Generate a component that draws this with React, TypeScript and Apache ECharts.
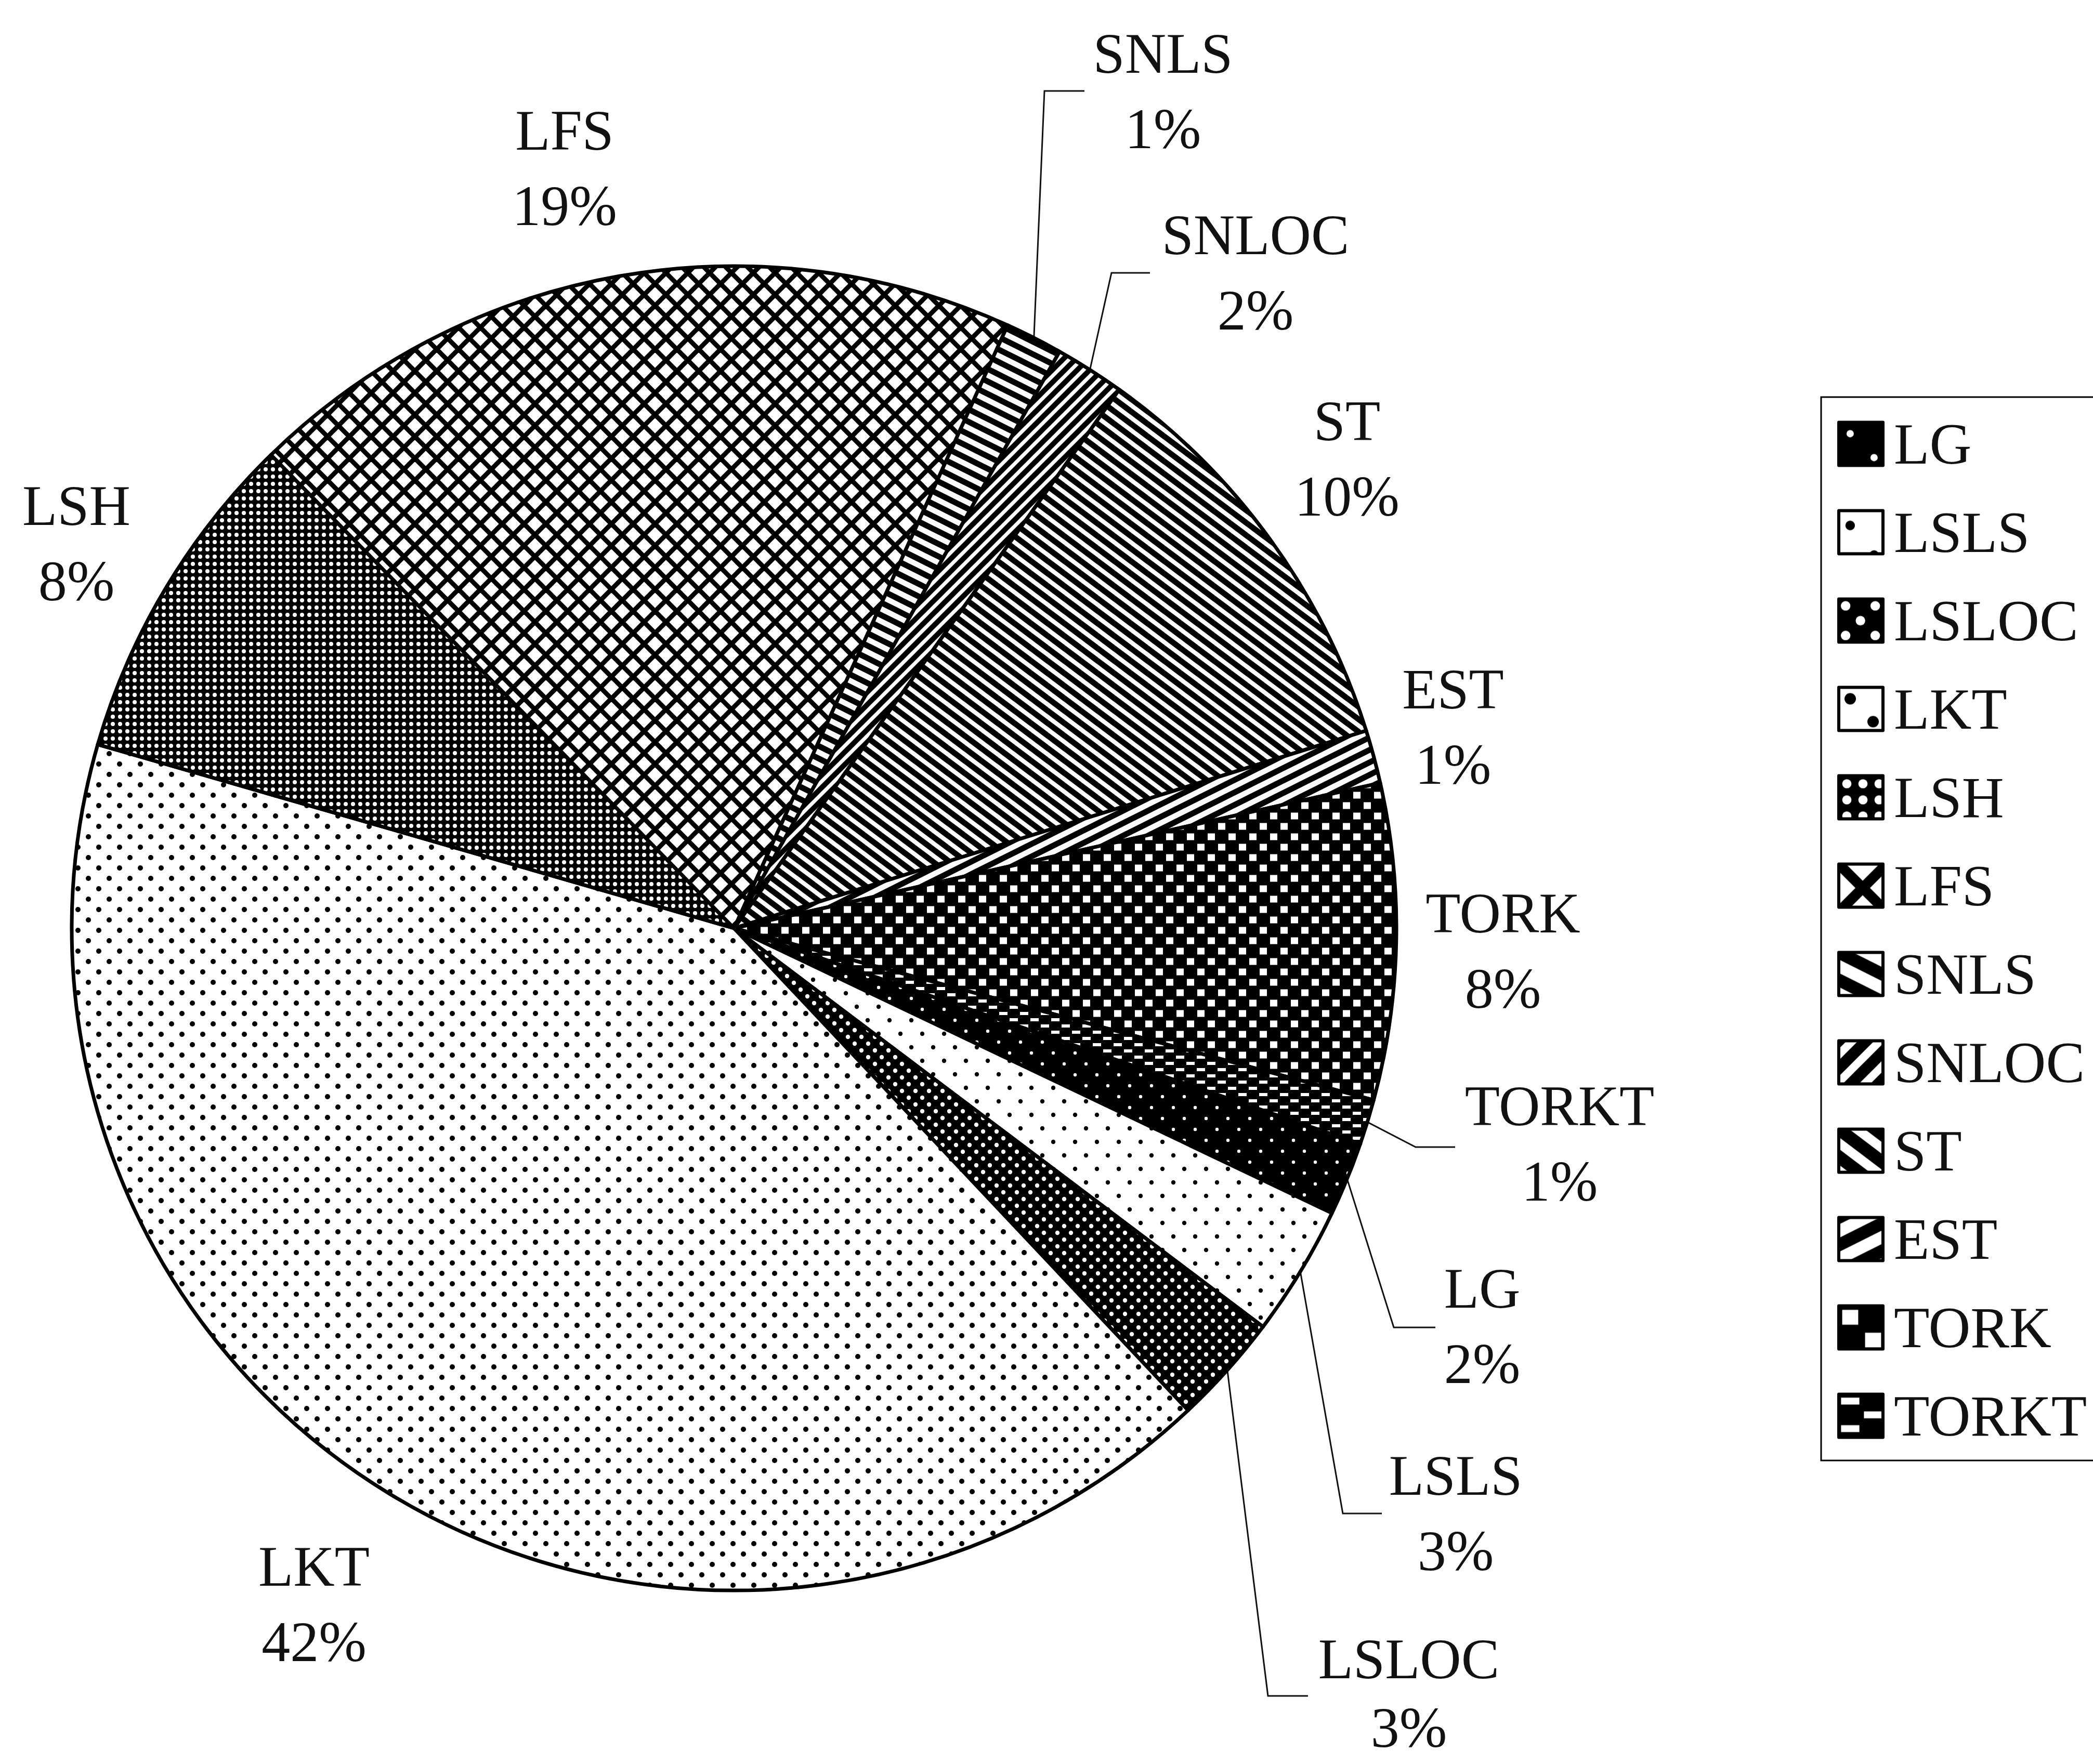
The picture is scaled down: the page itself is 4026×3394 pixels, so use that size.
import React, { useEffect, useRef } from 'react';
import * as echarts from 'echarts';

// ---- data ----
const NAMES = ['LG', 'LSLS', 'LSLOC', 'LKT', 'LSH', 'LFS', 'SNLS', 'SNLOC', 'ST', 'EST', 'TORK', 'TORKT'];
const VALUES = [1.8, 3.2, 2.7, 41.5, 8.2, 19.1, 1.4, 1.7, 10.3, 1.3, 7.7, 1.1];

// ---- layout / style config ----
const W = 4026;
const H = 3394;
const CX = 1412;
const CY = 1786;
const R = 1274;
const START_ANGLE = -19.0;
const FONT = '"Liberation Serif", "Times New Roman", serif';

// label block centres, px offsets from the pie centre
const LABEL_OFFSETS: [number, number][] = [
  [1439, 765], // LG
  [1388, 1125], // LSLS
  [1298, 1472], // LSLOC
  [-808, 1300], // LKT
  [-1265, -741], // LSH
  [-326, -1463], // LFS
  [825, -1611], // SNLS
  [1003, -1262], // SNLOC
  [1179, -904], // ST
  [1383, -388], // EST
  [1479, 43], // TORK
  [1588, 414], // TORKT
];
// per-label line height (the bottom label is a little tighter so it stays on the page)
const LABEL_LINE_HEIGHTS = [145, 145, 132, 145, 145, 145, 145, 145, 145, 145, 145, 145];
// leader lines: elbow and end, px offsets from the pie centre (null = no line)
const LEADERS: ([number, number][] | null)[] = [
  [[1269, 768], [1349, 768]],
  [[1171, 1126], [1246, 1126]],
  [[1027, 1477], [1104, 1477]],
  null,
  null,
  null,
  [[597, -1611], [674, -1611]],
  [[726, -1261], [800, -1261]],
  null,
  null,
  null,
  [[1311, 421], [1387, 421]],
];

type Ctx = CanvasRenderingContext2D;

function makePattern(w: number, h: number, s: number, bg: string, draw: (ctx: Ctx, w: number, h: number) => void) {
  const c = document.createElement('canvas');
  c.width = Math.round(w * s);
  c.height = Math.round(h * s);
  const ctx = c.getContext('2d') as Ctx;
  ctx.scale(c.width / w, c.height / h);
  ctx.fillStyle = bg;
  ctx.fillRect(0, 0, w, h);
  draw(ctx, w, h);
  return { image: c, repeat: 'repeat', imageWidth: c.width, imageHeight: c.height } as any;
}

function dots(pts: [number, number][], r: number, color: string) {
  return (ctx: Ctx, w: number, h: number) => {
    ctx.fillStyle = color;
    for (const [x, y] of pts) {
      for (const dx of [-w, 0, w]) {
        for (const dy of [-h, 0, h]) {
          ctx.beginPath();
          ctx.arc(x + dx, y + dy, r, 0, Math.PI * 2);
          ctx.fill();
        }
      }
    }
  };
}

function rects(pts: [number, number][], rw: number, rh: number, color: string) {
  return (ctx: Ctx, w: number, h: number) => {
    ctx.fillStyle = color;
    for (const [x, y] of pts) {
      for (const dx of [-w, 0, w]) {
        for (const dy of [-h, 0, h]) {
          ctx.fillRect(x + dx - rw / 2, y + dy - rh / 2, rw, rh);
        }
      }
    }
  };
}

// dir > 0 : "\" stripes, dir < 0 : "/" stripes
function stripes(dir: number, lw: number, color: string) {
  return (ctx: Ctx, w: number, h: number) => {
    ctx.strokeStyle = color;
    ctx.lineWidth = lw;
    for (let k = -3; k <= 3; k++) {
      ctx.beginPath();
      if (dir > 0) {
        ctx.moveTo(-w, -h + k * h);
        ctx.lineTo(2 * w, 2 * h + k * h);
      } else {
        ctx.moveTo(-w, 2 * h + k * h);
        ctx.lineTo(2 * w, -h + k * h);
      }
      ctx.stroke();
    }
  };
}

function crossHatch(lw: number, color: string) {
  return (ctx: Ctx, w: number, h: number) => {
    stripes(1, lw, color)(ctx, w, h);
    stripes(-1, lw, color)(ctx, w, h);
  };
}

function buildPatterns(s: number) {
  const K = '#000';
  const Wt = '#fff';
  return [
    makePattern(42, 42, s, K, dots([[10, 10], [31, 31]], 3.2, Wt)), // LG
    makePattern(42, 52, s, Wt, dots([[10, 13], [31, 39]], 4.2, K)), // LSLS
    makePattern(26, 26, s, K, dots([[6, 6], [19, 19]], 4.2, Wt)), // LSLOC
    makePattern(40, 40, s, Wt, dots([[10, 10], [30, 30]], 5, K)), // LKT
    makePattern(14, 14, s, K, dots([[7, 7]], 4, Wt)), // LSH
    makePattern(42, 42, s, Wt, crossHatch(9, K)), // LFS
    makePattern(48, 24, s, Wt, stripes(1, 11, K)), // SNLS
    makePattern(24, 24, s, Wt, stripes(-1, 10, K)), // SNLOC
    makePattern(32, 24, s, Wt, stripes(1, 11, K)), // ST
    makePattern(48, 24, s, Wt, stripes(-1, 11, K)), // EST
    makePattern(40, 40, s, K, rects([[10, 10], [30, 30]], 14, 13, Wt)), // TORK
    makePattern(40, 24, s, K, rects([[10, 6], [30, 18]], 16, 6, Wt)), // TORKT
  ];
}

export default function App() {
  const ref = useRef<HTMLDivElement>(null);

  useEffect(() => {
    document.body.style.margin = '0';
    document.body.style.overflow = 'hidden';
    if (!ref.current) return;
    const chart = echarts.init(ref.current, undefined, { renderer: 'svg' });

    const piePatterns = buildPatterns(1);
    const legendPatterns = buildPatterns(2.2);

    const total = VALUES.reduce((a, b) => a + b, 0);
    let acc = 0;
    const mids = VALUES.map((v) => {
      const m = START_ANGLE - ((acc + v / 2) / total) * 360;
      acc += v;
      return m;
    });

    const option: any = {
      animation: false,
      backgroundColor: '#ffffff',
      legend: {
        orient: 'vertical',
        left: 3503,
        top: 764,
        padding: [34, 80, 30, 31],
        itemWidth: 85,
        itemHeight: 83,
        itemGap: 58,
        borderColor: '#000',
        borderWidth: 3,
        icon: 'rect',
        selectedMode: false,
        textStyle: {
          fontFamily: FONT,
          fontSize: 112,
          color: '#111',
          padding: [0, 0, 0, 16],
        },
        data: NAMES.map((n, i) => ({
          name: n,
          itemStyle: { color: legendPatterns[i], borderColor: '#000', borderWidth: 6 },
        })),
      },
      series: [
        {
          type: 'pie',
          center: [CX, CY],
          radius: R,
          startAngle: START_ANGLE,
          clockwise: true,
          avoidLabelOverlap: false,
          emphasis: { disabled: true },
          itemStyle: { borderColor: '#000', borderWidth: 7 },
          label: {
            show: true,
            position: 'outside',
            fontFamily: FONT,
            fontSize: 110,
            lineHeight: 145,
            color: '#111',
            align: 'center',
            formatter: (p: any) => `${p.name}\n${Math.round(p.percent)}%`,
          },
          labelLine: { show: true, length: 20, length2: 20, lineStyle: { color: '#111', width: 3 } },
          labelLayout: (p: any) => {
            const i = p.dataIndex;
            const off = LABEL_OFFSETS[i];
            const out: any = { x: CX + off[0], y: CY + off[1], align: 'center', verticalAlign: 'middle' };
            const lead = LEADERS[i];
            if (lead) {
              const a = (mids[i] * Math.PI) / 180;
              out.labelLinePoints = [
                [CX + R * Math.cos(a), CY - R * Math.sin(a)],
                [CX + lead[0][0], CY + lead[0][1]],
                [CX + lead[1][0], CY + lead[1][1]],
              ];
            }
            return out;
          },
          data: NAMES.map((n, i) => ({
            name: n,
            value: VALUES[i],
            itemStyle: { color: piePatterns[i] },
            label: { lineHeight: LABEL_LINE_HEIGHTS[i] },
            labelLine: { show: !!LEADERS[i] },
          })),
        },
      ],
    };

    chart.setOption(option);
    return () => chart.dispose();
  }, []);

  return <div ref={ref} style={{ width: W, height: H, position: 'absolute', left: 0, top: 0 }} />;
}
